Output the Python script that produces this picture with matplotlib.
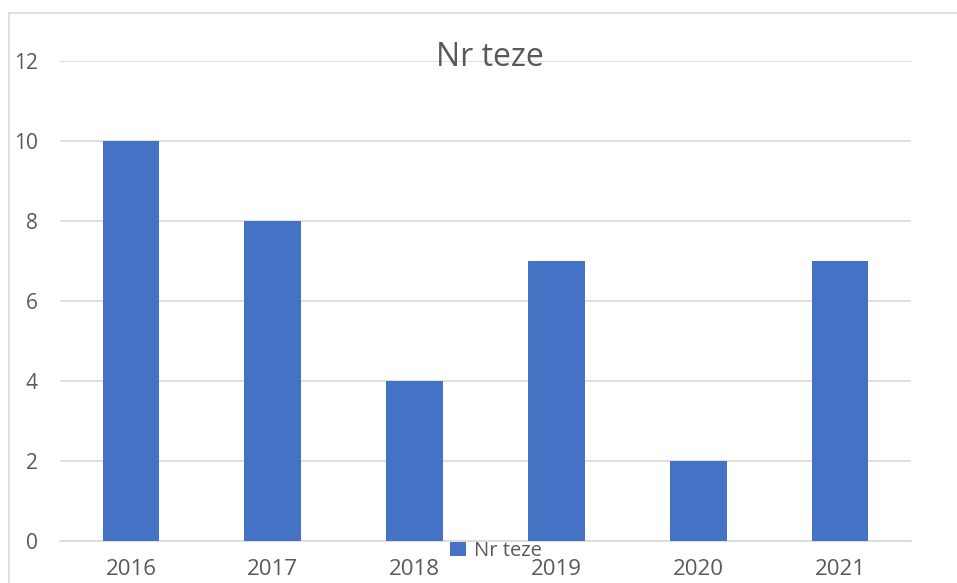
import matplotlib.pyplot as plt
from matplotlib.patches import Rectangle

plt.rcParams['font.family'] = ['Open Sans', 'DejaVu Sans']

years = ['2016', '2017', '2018', '2019', '2020', '2021']
nr_teze = [10, 8, 4, 7, 2, 7]
yticks = [0, 2, 4, 6, 8, 10, 12]

W, H = 957, 583
fig = plt.figure(figsize=(W / 100, H / 100), dpi=100)
ax = fig.add_axes([60 / W, (H - 541) / H, (911 - 60) / W, (541 - 61) / H])

# chart border (Excel style, partly cut off)
fig.patches.append(Rectangle((9 / W, -0.1), 2, (H - 13) / H + 0.1, transform=fig.transFigure,
                             fill=False, edgecolor='#D9D9D9', linewidth=1.2))

x = range(len(years))
ax.bar(x, nr_teze, width=0.4, color='#4472C4', label='Nr teze', zorder=3)

ax.set_xlim(-0.5, len(years) - 0.5)
ax.set_ylim(0, 12)
ax.set_yticks(yticks)
ax.set_xticks(list(x))
ax.set_xticklabels(years)
ax.grid(axis='y', color='#D9D9D9', linewidth=1.2, zorder=0)
for s in ['top', 'right', 'left']:
    ax.spines[s].set_visible(False)
ax.spines['bottom'].set_color('#D9D9D9')
ax.spines['bottom'].set_linewidth(1.2)
ax.tick_params(axis='both', length=0, colors='#595959')
ax.tick_params(axis='y', labelsize=15, pad=16)
ax.tick_params(axis='x', labelsize=16, pad=13)

fig.text(490 / W, 1 - 57 / H, 'Nr teze', fontsize=23, color='#595959', ha='center', va='center')

fig.legend(loc='center', bbox_to_anchor=(496 / W, 1 - 551 / H), frameon=False,
           fontsize=14.5, labelcolor='#595959', handlelength=0.75, handleheight=0.75,
           handletextpad=0.4, borderpad=0)

fig.savefig('out.png', dpi=100)
